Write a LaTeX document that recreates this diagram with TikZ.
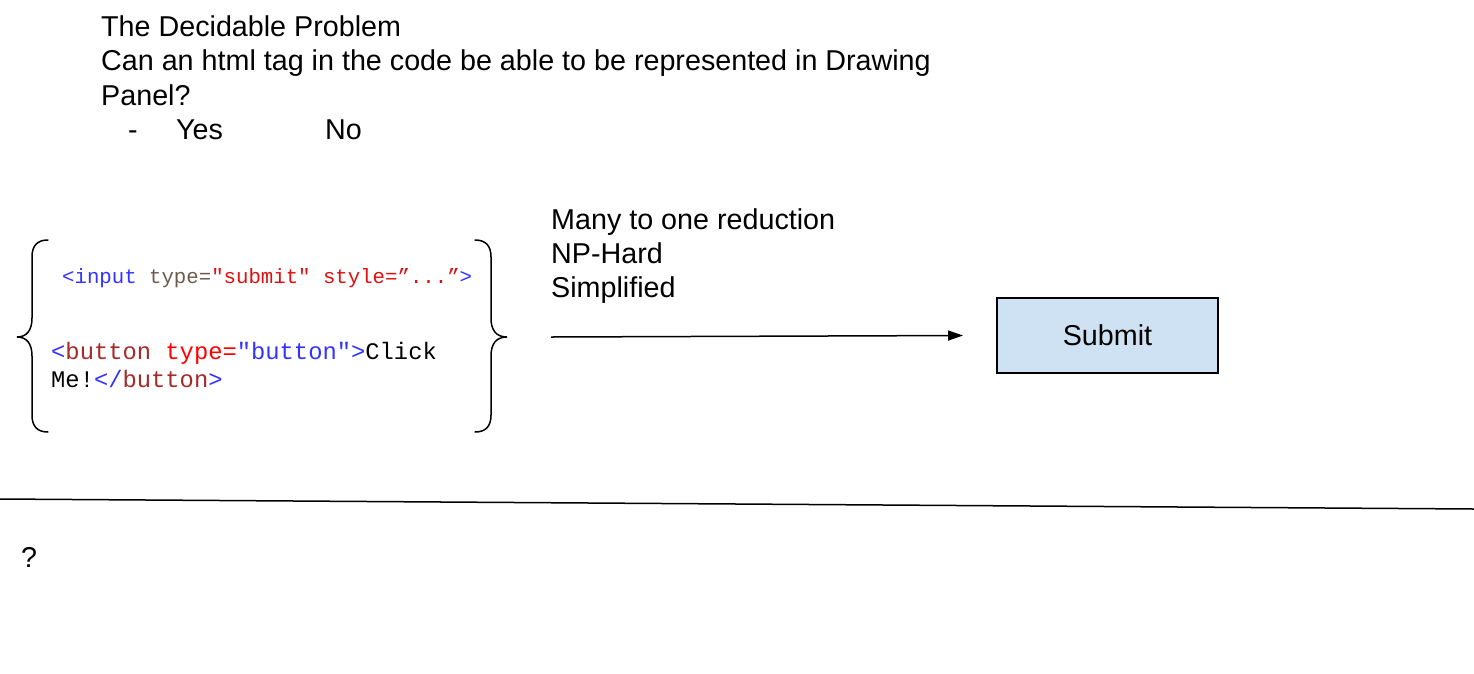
\documentclass[tikz,border=0pt]{standalone}
\usepackage{fontspec}
\setmainfont{Liberation Sans}
\newfontfamily\codefont{Liberation Mono}
\usetikzlibrary{arrows.meta}
\definecolor{tagblue}{HTML}{3333FF}
\definecolor{tagbrown}{HTML}{A52A2A}
\definecolor{attrgray}{HTML}{6E5A4E}
\definecolor{strred}{HTML}{DD1111}
\definecolor{attrred}{HTML}{FF0000}
\definecolor{boxfill}{HTML}{CFE2F3}
\tikzset{
  txt/.style={anchor=base west, inner sep=0pt, font=\fontsize{28.7}{34.5}\selectfont},
  codeA/.style={anchor=base west, inner sep=0pt, font=\codefont\fontsize{20.7}{24}\selectfont},
  codeB/.style={anchor=base west, inner sep=0pt, font=\codefont\fontsize{23.8}{28}\selectfont},
  brace/.style={line width=1.5pt, line cap=round},
  conn/.style={line width=1.5pt, -{Triangle[length=15pt,width=10pt]}},
  uibox/.style={draw, line width=1.3pt, fill=boxfill, minimum width=221pt, minimum height=75pt, inner sep=0pt, font=\fontsize{28.7}{30}\selectfont},
  rule/.style={line width=1.5pt}
}
\begin{document}
\begin{tikzpicture}[x=1pt,y=-1pt]
\useasboundingbox (0,0) rectangle (1474,673);
\fill[white] (0,0) rectangle (1474,673);
% title block
\node[txt] (t1) at (101,36) {The Decidable Problem};
\node[txt] (t2) at (101,70.5) {Can an html tag in the code be able to be represented in Drawing};
\node[txt] (t3) at (101,105) {Panel?};
\node[txt] (dash) at (128,139.5) {-};
\node[txt] (yes) at (176,139.5) {Yes};
\node[txt] (no) at (325,139.5) {No};
% reduction labels
\node[txt] (r1) at (551,229) {Many to one reduction};
\node[txt] (r2) at (551,263) {NP-Hard};
\node[txt] (r3) at (551,297.5) {Simplified};
% code
\node[codeA] (c1) at (62,283) {\textcolor{tagblue}{<input} \textcolor{attrgray}{type=}\textcolor{strred}{"submit"} \textcolor{strred}{style=”...”}\textcolor{tagblue}{>}};
\node[codeB] (c2) at (51,359) {\textcolor{tagblue}{<}\textcolor{tagbrown}{button} \textcolor{attrred}{type}\textcolor{attrred}{=}\textcolor{tagblue}{"button">}Click};
\node[codeB] (c3) at (51,387) {Me!\textcolor{tagblue}{</}\textcolor{tagbrown}{button}\textcolor{tagblue}{>}};
% braces
\draw[brace] (48,240) .. controls (37,240) and (32,246) .. (32,257) -- (32,318) .. controls (32,330) and (27,337) .. (17,337) .. controls (27,337) and (32,344) .. (32,356) -- (32,415) .. controls (32,426) and (37,432) .. (48,432);
\draw[brace] (475,240) .. controls (486,240) and (491,246) .. (491,257) -- (491,318) .. controls (491,330) and (496,337) .. (507,337) .. controls (496,337) and (491,344) .. (491,356) -- (491,415) .. controls (491,426) and (486,432) .. (475,432);
% arrow and box
\coordinate (a1) at (551,337);
\coordinate (a2) at (963,335.5);
\draw[conn] (a1) -- (a2);
\node[uibox] (submit) at (1107.5,335.5) {Submit};
% rule
\coordinate (l1) at (0,499);
\coordinate (l2) at (1474,509);
\draw[rule] (l1) -- (l2);
\node[txt] (q) at (21,567) {?};
\end{tikzpicture}
\end{document}
